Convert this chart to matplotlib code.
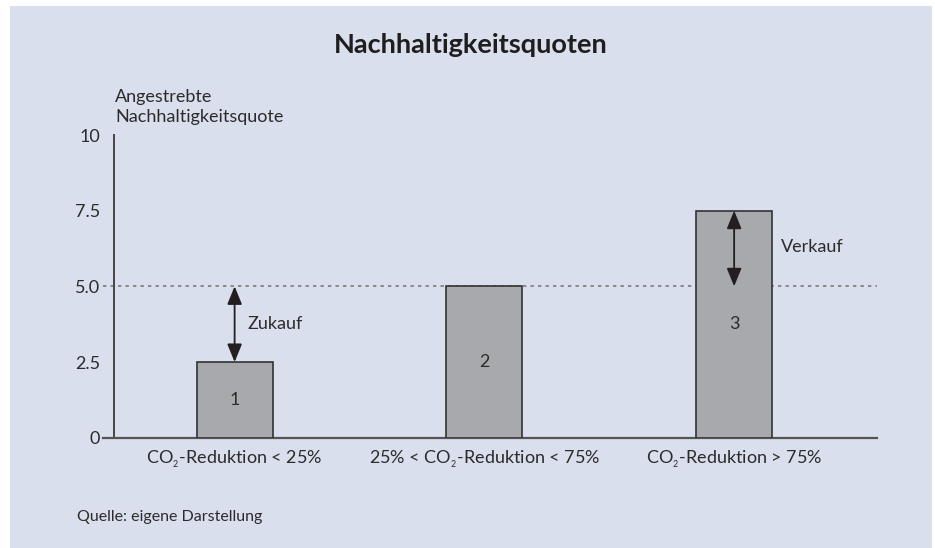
import matplotlib.pyplot as plt
from matplotlib.patches import Rectangle

# data
categories = ["CO$_{_2}$-Reduktion < 25%", "25% < CO$_{_2}$-Reduktion < 75%", "CO$_{_2}$-Reduktion > 75%"]
quoten = [2.5, 5.0, 7.5]
bar_labels = ["1", "2", "3"]
ziel = 5.0
y_ticks = [0, 2.5, 5.0, 7.5, 10]
y_ticklabels = ["0", "2.5", "5.0", "7.5", "10"]

plt.rcParams['font.family'] = ['Lato', 'DejaVu Sans']
plt.rcParams['mathtext.fontset'] = 'custom'
plt.rcParams['mathtext.rm'] = 'Lato'
plt.rcParams['mathtext.it'] = 'Lato:italic'
plt.rcParams['mathtext.bf'] = 'Lato:bold'

bg = '#d9dfec'
text_col = '#2b2b2b'
fs = 13

fig = plt.figure(figsize=(9.35, 5.48), dpi=100, facecolor='white')
# light blue panel behind everything
fig.add_artist(Rectangle((10 / 935, 0), 922 / 935, 542 / 548, transform=fig.transFigure,
                         facecolor=bg, edgecolor='none', zorder=-10))

ax = fig.add_axes([103 / 935, 110.3 / 548, 774 / 935, 302.7 / 548])
ax.set_facecolor('none')
ax.set_zorder(1)

x = [1, 2, 3]
ax.bar(x, quoten, width=0.304, color='#a8a9ac', edgecolor='#333333', linewidth=1.2, zorder=3)
for xi, q, lab in zip(x, quoten, bar_labels):
    ax.text(xi, q / 2, lab, ha='center', va='center', fontsize=fs, color=text_col, zorder=4)

# target line
ax.axhline(ziel, color='#7a7a7a', linestyle=(0, (2, 2.5)), linewidth=1.2, zorder=2)

# arrows: buy / sell to reach the target
ax.annotate('', xy=(x[0], ziel), xytext=(x[0], quoten[0]),
            arrowprops=dict(arrowstyle='<|-|>,head_length=1.1,head_width=0.45',
                            color='#231f20', lw=1.3, shrinkA=0, shrinkB=0), zorder=5)
ax.text(x[0] + 0.053, (ziel + quoten[0]) / 2, 'Zukauf', ha='left', va='center',
        fontsize=fs, color=text_col)
ax.annotate('', xy=(x[2], quoten[2]), xytext=(x[2], ziel),
            arrowprops=dict(arrowstyle='<|-|>,head_length=1.1,head_width=0.45',
                            color='#231f20', lw=1.3, shrinkA=0, shrinkB=0), zorder=5)
ax.text(x[2] + 0.188, ziel + 1.3, 'Verkauf', ha='left', va='center',
        fontsize=fs, color=text_col)

ax.set_xlim(0.473, 3.572)
ax.set_ylim(0, 10)

for s in ['top', 'right']:
    ax.spines[s].set_visible(False)
ax.spines['left'].set_position(('data', 0.517))
ax.spines['left'].set_color('#444444')
ax.spines['left'].set_linewidth(1.4)
ax.spines['bottom'].set_color('#555555')
ax.spines['bottom'].set_linewidth(1.6)

ax.set_yticks(y_ticks)
ax.set_yticklabels(y_ticklabels)
ax.tick_params(axis='y', length=0, pad=10, labelsize=fs, labelcolor=text_col)
ax.set_xticks(x)
ax.set_xticklabels(categories)
ax.tick_params(axis='x', length=0, pad=8, labelsize=fs, labelcolor=text_col)

fig.text(115 / 935, 1 - 107 / 548, 'Angestrebte\nNachhaltigkeitsquote', ha='left', va='center',
         fontsize=fs, color=text_col, linespacing=1.3)
fig.text(471 / 935, 1 - 45 / 548, 'Nachhaltigkeitsquoten', ha='center', va='center',
         fontsize=19.5, fontweight='bold', color='#1e1e1e')
fig.text(77 / 935, 1 - 517 / 548, 'Quelle: eigene Darstellung', ha='left', va='center',
         fontsize=11.5, color=text_col)

fig.savefig('out.png', dpi=100, facecolor='white')
